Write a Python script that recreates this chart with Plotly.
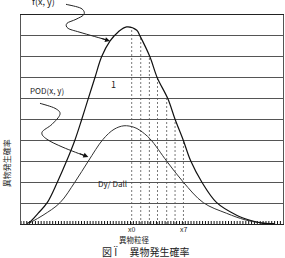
import plotly.graph_objects as go
import numpy as np

# ---- data ----
size_f = [2.3, 3.4, 6.5, 10.0, 13.9, 17.4, 20.6, 23.2, 25.7, 28.2, 30.8, 34.0, 37.1, 40.3,
          44.2, 45.4, 49.2, 52.0, 56.1, 58.8, 61.9, 64.8, 69.0, 74.7, 82.3, 87.4, 92.0, 96.9]
prob_f = [0.03, 0.10, 0.51, 1.02, 2.01, 3.01, 4.02, 5.01, 6.01, 7.00, 8.01, 8.76, 9.19, 9.43,
          9.27, 9.00, 8.00, 7.00, 5.98, 5.01, 4.02, 3.01, 2.01, 1.02, 0.42, 0.18, 0.04, 0.01]
size_pod = [3.4, 8.4, 14.9, 20.6, 25.7, 31.3, 35.5, 39.3, 43.1, 45.4, 49.2, 55.6, 61.9,
            69.6, 78.5, 85.5, 91.2, 96.9]
prob_pod = [0.06, 0.42, 1.02, 2.01, 3.01, 4.05, 4.53, 4.70, 4.63, 4.48, 4.08, 3.01, 2.01,
            1.02, 0.51, 0.20, 0.06, 0.01]
class_sizes = [42.25, 45.7, 49.0, 52.1, 55.6, 58.8, 62.0]
class_labels = ["x0", "x7"]
class_label_pos = [42.25, 62.0]

X_MIN, X_MAX, X_MINOR = 0, 100, 1.1
Y_MIN, Y_MAX = 0, 10

FONT = "Noto Sans CJK JP, Noto Sans, sans-serif"

# plot-area geometry (pixels) used for decorative leader lines
L, R, T, B = 21, 2, 14.7, 34.3
W, H = 285, 258
PW, PH = W - L - R, H - T - B


def to_paper(px, py):
    return (px - L) / PW, (H - B - py) / PH


def smooth_path(points):
    pts = [to_paper(*p) for p in points]
    d = f"M {pts[0][0]:.4f},{pts[0][1]:.4f}"
    for i in range(len(pts) - 1):
        p0 = pts[i - 1] if i > 0 else pts[i]
        p1 = pts[i]
        p2 = pts[i + 1]
        p3 = pts[i + 2] if i + 2 < len(pts) else pts[i + 1]
        c1 = (p1[0] + (p2[0] - p0[0]) / 6, p1[1] + (p2[1] - p0[1]) / 6)
        c2 = (p2[0] - (p3[0] - p1[0]) / 6, p2[1] - (p3[1] - p1[1]) / 6)
        d += f" C {c1[0]:.4f},{c1[1]:.4f} {c2[0]:.4f},{c2[1]:.4f} {p2[0]:.4f},{p2[1]:.4f}"
    return d


F_LEADER = [(66, 4), (81, 8), (84, 14), (76, 19), (67, 23), (68, 28), (80, 32), (108, 40)]
POD_LEADER = [(40, 103), (55, 108), (60, 114), (52, 124), (42, 132), (47, 139), (63, 147), (86, 156)]

fig = go.Figure()

# minor tick marks along the bottom axis (drawn as short segments, inside)
tick_len = 3.0 / PH * (Y_MAX - Y_MIN)
tx, ty = [], []
for v in np.arange(X_MIN, X_MAX + 1e-9, X_MINOR):
    tx += [v, v, None]
    ty += [Y_MIN, Y_MIN + tick_len, None]
fig.add_trace(go.Scatter(x=tx, y=ty, mode="lines", line=dict(color="#111", width=1),
                         hoverinfo="skip", showlegend=False))

# dashed class lines from axis up to f curve
dx, dy = [], []
for xs in class_sizes:
    top = float(np.interp(xs, size_f, prob_f))
    dx += [xs, xs, None]
    dy += [0, top, None]
fig.add_trace(go.Scatter(x=dx, y=dy, mode="lines",
                         line=dict(color="#555", width=0.8, dash="2px,2px"),
                         hoverinfo="skip", showlegend=False))

fig.add_trace(go.Scatter(x=size_pod, y=prob_pod, mode="lines", line_shape="spline",
                         line=dict(color="#333", width=1), showlegend=False))
fig.add_trace(go.Scatter(x=size_f, y=prob_f, mode="lines", line_shape="spline",
                         line=dict(color="#111", width=1.2), showlegend=False))

shapes = []
for pts in (F_LEADER, POD_LEADER):
    shapes.append(dict(type="path", xref="paper", yref="paper", path=smooth_path(pts),
                       line=dict(color="#222", width=1)))

annotations = []


def text(px, py, s, size=8, angle=0):
    x, y = to_paper(px, py)
    annotations.append(dict(x=x, y=y, xref="paper", yref="paper", text=s, showarrow=False,
                            textangle=angle, font=dict(family=FONT, size=size, color="#222"),
                            xanchor="center", yanchor="middle"))


text(43, 1.5, "f(x, y)", 9)
text(47, 90, "POD(x, y)", 8)
text(113, 84, "1", 9)
text(112, 183, "Dy/ Dall", 8)
text(134, 239.5, "異物粒径", 7.5)
text(145, 251, "図 Ï　 異物発生確率", 10)
text(6, 163, "異物発生確率", 8, -90)

for lab, xv in zip(class_labels, class_label_pos):
    annotations.append(dict(x=xv, y=to_paper(0, 229)[1], xref="x", yref="paper", text=lab,
                            showarrow=False, font=dict(family=FONT, size=7, color="#222"),
                            xanchor="center", yanchor="middle"))

# arrowheads at ends of leaders
for (tx0, ty0), (ax, ay) in (((110, 40.7), (-10, -3)), ((88.3, 156.7), (-10, -4))):
    x, y = to_paper(tx0, ty0)
    annotations.append(dict(x=x, y=y, xref="paper", yref="paper", text="", showarrow=True,
                            ax=ax, ay=ay, arrowhead=2, arrowsize=1, arrowwidth=1,
                            arrowcolor="#111", standoff=0))

fig.update_layout(
    width=W, height=H,
    margin=dict(l=L, r=R, t=T, b=B, pad=0),
    paper_bgcolor="white", plot_bgcolor="white",
    shapes=shapes, annotations=annotations,
    xaxis=dict(range=[X_MIN, X_MAX], showgrid=False, zeroline=False, showline=True,
               linecolor="#222", linewidth=1, mirror=True,
               ticks="", showticklabels=False),
    yaxis=dict(range=[Y_MIN, Y_MAX], showgrid=True, gridcolor="#555", gridwidth=1, dtick=1,
               zeroline=False, showline=True, linecolor="#555", linewidth=1, mirror=True,
               ticks="", showticklabels=False),
)

fig.write_html("out.html")
